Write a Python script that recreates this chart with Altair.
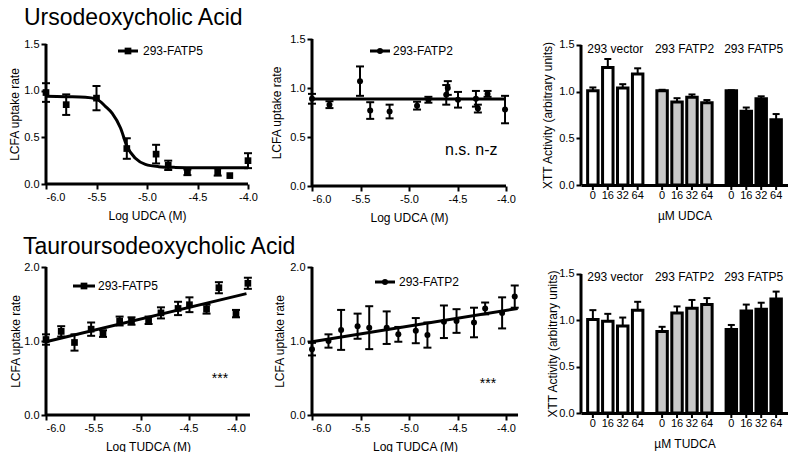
import altair as alt
import pandas as pd

# ---------------- data ----------------
x_ticks = [-6.0, -5.5, -5.0, -4.5, -4.0]

# UDCA, 293-FATP5
udca_f5_x = [-6.0, -5.80, -5.5, -5.2, -4.91, -4.79, -4.6, -4.3, -4.18, -4.0]
udca_f5_y = [0.98, 0.85, 0.92, 0.38, 0.32, 0.20, 0.125, 0.13, 0.09, 0.25]
udca_f5_err = [0.10, 0.11, 0.13, 0.11, 0.10, 0.05, 0.03, 0.04, 0.0, 0.08]
udca_f5_fit_x = [-6.0, -5.8, -5.61, -5.5, -5.41, -5.344, -5.262, -5.197, -5.115, -5.016, -4.885, -4.72, -4.5, -4.0]
udca_f5_fit_y = [0.94, 0.935, 0.93, 0.91, 0.83, 0.757, 0.60, 0.40, 0.275, 0.21, 0.186, 0.178, 0.175, 0.175]

# UDCA, 293-FATP2
udca_f2_x = [-6.0, -5.82, -5.505, -5.40, -5.20, -4.917, -4.80, -4.616, -4.60, -4.495, -4.31, -4.29, -4.19, -4.01]
udca_f2_y = [0.89, 0.83, 1.07, 0.77, 0.76, 0.82, 0.88, 0.93, 1.00, 0.88, 0.89, 0.79, 0.94, 0.78]
udca_f2_err = [0.05, 0.035, 0.15, 0.085, 0.07, 0.04, 0.03, 0.10, 0.07, 0.08, 0.08, 0.04, 0.03, 0.14]
udca_f2_fit_x = [-6.0, -4.0]
udca_f2_fit_y = [0.887, 0.887]

# TUDCA, 293-FATP5
tudca_f5_x = [-6.0, -5.84, -5.70, -5.525, -5.40, -5.225, -5.10, -4.92, -4.79, -4.61, -4.49, -4.31, -4.18, -4.0, -3.875]
tudca_f5_y = [1.02, 1.13, 0.98, 1.16, 1.10, 1.27, 1.27, 1.28, 1.38, 1.44, 1.49, 1.43, 1.72, 1.37, 1.78]
tudca_f5_err = [0.07, 0.07, 0.11, 0.09, 0.045, 0.06, 0.05, 0.05, 0.075, 0.09, 0.10, 0.06, 0.075, 0.05, 0.075]
tudca_f5_fit_x = [-6.0, -3.89]
tudca_f5_fit_y = [0.99, 1.64]

# TUDCA, 293-FATP2
tudca_f2_x = [-6.0, -5.83, -5.70, -5.53, -5.41, -5.23, -5.11, -4.93, -4.81, -4.64, -4.51, -4.33, -4.215, -4.04, -3.91]
tudca_f2_y = [0.89, 1.00, 1.15, 1.20, 1.18, 1.18, 1.09, 1.14, 1.08, 1.26, 1.27, 1.25, 1.44, 1.38, 1.60]
tudca_f2_err = [0.085, 0.09, 0.27, 0.17, 0.29, 0.22, 0.10, 0.17, 0.17, 0.22, 0.16, 0.20, 0.08, 0.21, 0.15]
tudca_f2_fit_x = [-6.0, -3.88]
tudca_f2_fit_y = [0.99, 1.44]

# XTT bars
groups = ["293 vector", "293 FATP2", "293 FATP5"]
concs = ["0", "16", "32", "64"]
group_fills = ["#ffffff", "#c8c8c8", "#000000"]
udca_bar_vals = [[1.01, 1.26, 1.04, 1.19], [1.01, 0.89, 0.94, 0.88], [1.01, 0.79, 0.925, 0.70]]
udca_bar_errs = [[0.035, 0.09, 0.04, 0.06], [0.01, 0.04, 0.03, 0.03], [0.005, 0.04, 0.025, 0.06]]
tudca_bar_vals = [[1.01, 0.99, 0.94, 1.11], [0.88, 1.08, 1.13, 1.17], [0.90, 1.10, 1.12, 1.23]]
tudca_bar_errs = [[0.10, 0.08, 0.09, 0.09], [0.05, 0.07, 0.09, 0.07], [0.05, 0.07, 0.07, 0.08]]

FONT = "Liberation Sans"
HYPHEN = "replace(format(datum.value, '.1f'), '\u2212', '-')"
ONE = pd.DataFrame({"k": [0]})


def line_panel(xs, ys, errs, fx, fy, shape, size, legend_text, leg, xtitle,
               width, height, ppu, axis_end, ydmax, ytop, yvals, title_x,
               note=None, row_title=None, interp="linear"):
    df = pd.DataFrame({"x": xs, "y": ys, "err": errs})
    df["lo"] = df["y"] - df["err"]
    df["hi"] = df["y"] + df["err"]
    e = df[df["err"] > 0]
    fit = pd.DataFrame({"x": fx, "y": fy})
    xsc = alt.Scale(domain=[-6.0, -6.0 + width / ppu], nice=False, zero=False)
    ysc = alt.Scale(domain=[0, ydmax], nice=False, zero=False)
    ycenter = height * (1 - ytop / (2 * ydmax))
    xcenter = (axis_end + 6.0) * ppu / 2
    xax = alt.Axis(values=x_ticks, labelExpr=HYPHEN, title=xtitle, titleY=31, titleX=xcenter,
                   titleBaseline="middle", titleAlign="center", domain=False)
    yax = alt.Axis(values=yvals, format=".1f", title="LCFA uptake rate", titleX=title_x,
                   titleY=ycenter, titleAngle=270, titleBaseline="middle",
                   titleAlign="center", domain=False)

    def X(f="x"):
        return alt.X(f + ":Q", scale=xsc, axis=xax)

    def Y(f):
        return alt.Y(f + ":Q", scale=ysc, axis=yax)

    layers = [
        alt.Chart(e).mark_rule(color="black", strokeWidth=2).encode(x=X(), y=Y("lo"), y2="hi:Q"),
        alt.Chart(e).mark_rule(color="black", strokeWidth=2, xOffset=-4, x2Offset=4).encode(
            x=X(), x2="x:Q", y=Y("hi")),
        alt.Chart(e).mark_rule(color="black", strokeWidth=2, xOffset=-4, x2Offset=4).encode(
            x=X(), x2="x:Q", y=Y("lo")),
        alt.Chart(fit).mark_line(color="black", strokeWidth=3, interpolate=interp).encode(
            x=X(), y=Y("y")),
        alt.Chart(df).mark_point(shape=shape, filled=True, size=size, color="black", opacity=1).encode(
            x=X(), y=Y("y")),
        # axis lines (GraphPad style: y from 0 to top tick, x from -6 to last value)
        alt.Chart(ONE).mark_rule(color="black", strokeWidth=3).encode(
            x=alt.value(0), y=alt.datum(0), y2=alt.datum(ytop)),
        alt.Chart(ONE).mark_rule(color="black", strokeWidth=3).encode(
            x=alt.datum(-6.0), x2=alt.datum(axis_end), y=alt.value(height)),
        # legend
        alt.Chart(ONE).mark_rule(color="black", strokeWidth=3).encode(
            x=alt.value(leg[0]), x2=alt.value(leg[1]), y=alt.value(leg[2])),
        alt.Chart(ONE).mark_point(shape=shape, filled=True, size=size, color="black", opacity=1).encode(
            x=alt.value((leg[0] + leg[1]) / 2), y=alt.value(leg[2])),
        alt.Chart(ONE).mark_text(text=legend_text, align="left", baseline="middle", fontSize=12,
                                 font=FONT, color="black").encode(
            x=alt.value(leg[3]), y=alt.value(leg[2])),
    ]
    if note is not None:
        layers.append(alt.Chart(ONE).mark_text(text=note[0], align=note[3], baseline="middle",
                                               fontSize=note[4], font=FONT, color="black").encode(
            x=alt.value(note[1]), y=alt.value(note[2])))
    if row_title is not None:
        layers.append(alt.Chart(ONE).mark_text(text=row_title[0], align="left", baseline="alphabetic",
                                               fontSize=23, font=FONT, color="black").encode(
            x=alt.value(row_title[1]), y=alt.value(row_title[2])))
    return alt.layer(*layers).properties(width=width, height=height)


def bar_panel(vals3, errs3, xtitle, width, height, ydmax, title_x):
    rows = []
    for g, vals, errs in zip(groups, vals3, errs3):
        for c, v, er in zip(concs, vals, errs):
            rows.append({"group": g, "conc": c, "val": v, "hi": v + er})
    df = pd.DataFrame(rows)
    gdf = pd.DataFrame({"group": groups})
    xsc = alt.Scale(domain=groups, paddingInner=0.15, paddingOuter=0.07)
    xosc = alt.Scale(domain=concs, paddingInner=0.3, paddingOuter=0.12)
    xax = alt.Axis(labels=False, ticks=False, domain=True, title=xtitle, titleY=30,
                   titleBaseline="middle")
    ysc = alt.Scale(domain=[0, ydmax], nice=False, zero=False)
    yc = height * (1 - 1.5 / (2 * ydmax))
    yax = alt.Axis(values=[0, 0.5, 1.0, 1.5], format=".1f", title="XTT Activity (arbitrary units)",
                   titleX=title_x, titleY=yc, titleAngle=270, titleBaseline="middle",
                   titleAlign="center", domain=False)
    X = alt.X("group:N", scale=xsc, axis=xax)
    XO = alt.XOffset("conc:N", scale=xosc)

    def Y(f):
        return alt.Y(f + ":Q", scale=ysc, axis=yax)

    layers = [
        alt.Chart(df).mark_rule(color="black", strokeWidth=2).encode(x=X, xOffset=XO, y=Y("val"), y2="hi:Q"),
        alt.Chart(df).mark_tick(color="black", thickness=2, size=7, opacity=1).encode(
            x=X, xOffset=XO, y=Y("hi")),
        alt.Chart(df).mark_bar(stroke="black", strokeWidth=3).encode(
            x=X, xOffset=XO, y=Y("val"),
            fill=alt.Fill("group:N", scale=alt.Scale(domain=groups, range=group_fills), legend=None)),
        alt.Chart(df).mark_rule(color="black", strokeWidth=2).encode(
            x=X, xOffset=XO, y=alt.value(height), y2=alt.value(height + 5)),
        alt.Chart(df).mark_text(fontSize=11, baseline="middle", font=FONT, color="black").encode(
            x=X, xOffset=XO, y=alt.value(height + 11), text="conc:N"),
        alt.Chart(gdf).mark_text(fontSize=12, baseline="middle", font=FONT, color="black").encode(
            x=X, y=alt.value(10), text="group:N"),
        alt.Chart(ONE).mark_rule(color="black", strokeWidth=3).encode(
            x=alt.value(0), y=alt.datum(0), y2=alt.datum(1.5)),
    ]
    return alt.layer(*layers).properties(width=width, height=height)


p1 = line_panel(udca_f5_x, udca_f5_y, udca_f5_err, udca_f5_fit_x, udca_f5_fit_y,
                "square", 45, "293-FATP5", (72, 92, 12, 97), "Log   UDCA (M)",
                205, 145, 101.0, -4.0, 1.5536, 1.5, [0, 0.5, 1.0, 1.5], -32,
                row_title=("Ursodeoxycholic Acid", -22, -14), interp="monotone")
p2 = line_panel(udca_f2_x, udca_f2_y, udca_f2_err, udca_f2_fit_x, udca_f2_fit_y,
                "circle", 36, "293-FATP2", (58, 78, 12, 81), "Log UDCA (M)",
                208, 147, 97.0, -4.0, 1.5, 1.5, [0, 0.5, 1.0, 1.5], -36,
                note=("n.s. n-z", 133, 111, "left", 16))
p3 = bar_panel(udca_bar_vals, udca_bar_errs, "\u00b5M UDCA", 207, 146, 1.564, -34)

p4 = line_panel(tudca_f5_x, tudca_f5_y, tudca_f5_err, tudca_f5_fit_x, tudca_f5_fit_y,
                "square", 45, "293-FATP5", (27, 49, 19, 52), "Log TUDCA (M)",
                205, 148, 95.0, -3.853, 2.0, 2.0, [0, 0.5, 1.0, 1.5, 2.0], -31,
                note=("***", 174, 112, "center", 14),
                row_title=("Tauroursodeoxycholic Acid", -23, -13))
p5 = line_panel(tudca_f2_x, tudca_f2_y, tudca_f2_err, tudca_f2_fit_x, tudca_f2_fit_y,
                "circle", 36, "293-FATP2", (63, 83, 15, 87), "Log TUDCA (M)",
                208, 148, 97.0, -3.876, 2.0, 2.0, [0, 0.5, 1.0, 1.5, 2.0], -33,
                note=("***", 176, 117, "center", 14))
p6 = bar_panel(tudca_bar_vals, tudca_bar_errs, "\u00b5M TUDCA", 207, 146, 1.5755, -29)

chart = (
    alt.concat(p1, p2, p3, p4, p5, p6, columns=3, bounds="flush", align="each",
               spacing={"row": 81, "column": 61})
    .properties(padding={"top": -1, "left": 0, "right": 0, "bottom": 0}, background="white")
    .configure(font=FONT)
    .configure_view(stroke=None)
    .configure_axis(grid=False, domainColor="black", domainWidth=3, tickColor="black",
                    tickWidth=2, tickSize=5, labelColor="black", labelFontSize=11,
                    titleColor="black", titleFontSize=12, titleFontWeight="normal",
                    labelFont=FONT, titleFont=FONT, labelPadding=2)
)

chart.save("out.html", embed_options={"renderer": "svg", "actions": False})
